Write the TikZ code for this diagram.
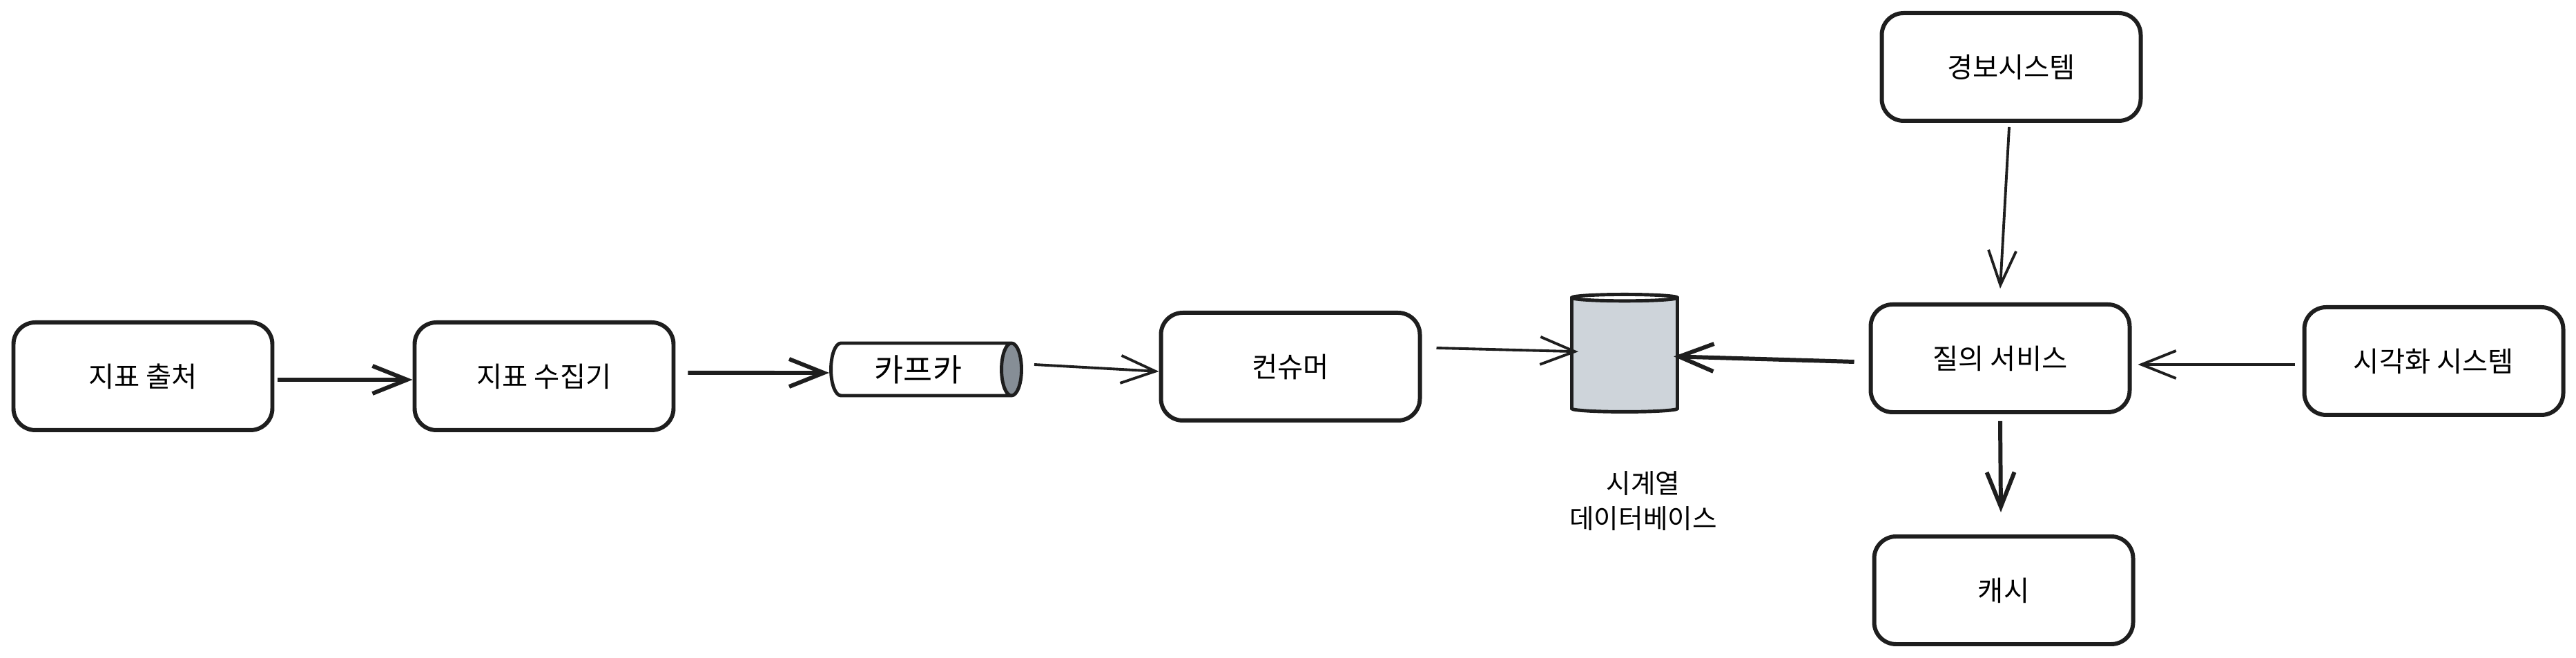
\documentclass[tikz,border=0pt]{standalone}
\usepackage{fontspec}
\setmainfont{Noto Sans CJK KR}
\usepackage{tikz}
\usetikzlibrary{arrows.meta,positioning,shapes.geometric}
\definecolor{inkblack}{HTML}{1E1E1E}
\definecolor{dbgray}{HTML}{CED4DA}
\definecolor{capgray}{HTML}{868E96}

\begin{document}
\begin{tikzpicture}[
  font=\fontsize{11.5}{15}\selectfont,
  box/.style={draw=inkblack,line width=1.7pt,rounded corners=9pt,minimum width=3.75cm,minimum height=1.56cm,align=center},
  arr/.style={-{Straight Barb[length=5mm,width=4mm]},draw=inkblack,line width=1.1pt},
  arrthick/.style={arr,line width=1.7pt}
]
\useasboundingbox (0,0) rectangle (37.31,9.53);
\node[box] (src) at (2.07,4.08) {지표 출처};
\node[box] (collector) at (7.88,4.08) {지표 수집기};
\node[cylinder,draw=inkblack,line width=1.4pt,cylinder uses custom fill,cylinder body fill=white,cylinder end fill=capgray,aspect=0.6,minimum width=0.76cm,minimum height=2.76cm,inner sep=1pt,font=\fontsize{13}{15}\selectfont] (kafka) at (13.30,4.18) {카프카};
\node[box] (consumer) at (18.69,4.22) {컨슈머};
\node[cylinder,shape border rotate=90,draw=inkblack,line width=1.4pt,cylinder uses custom fill,cylinder body fill=dbgray,cylinder end fill=white,aspect=0.4,minimum width=1.53cm,minimum height=1.7cm,anchor=north] (tsdb) at (23.53,5.29) {};
\node[align=center,font=\fontsize{11}{14.5}\selectfont] (tsdblabel) at (23.80,2.27) {시계열\\데이터베이스};
\node[box] (query) at (28.97,4.34) {질의 서비스};
\node[box] (alarm) at (29.13,8.56) {경보시스템};
\node[box] (vis) at (35.25,4.30) {시각화 시스템};
\node[box] (cache) at (29.02,0.98) {캐시};
% data path
\draw[arrthick] ([xshift=0.05cm,yshift=-0.05cm]src.east) -- ([yshift=-0.05cm]collector.west);
\draw[arrthick] ([xshift=0.18cm,yshift=0.05cm]collector.east) -- ([yshift=-0.05cm]kafka.west);
\draw[arr] ([xshift=0.16cm,yshift=0.07cm]kafka.east) -- ([yshift=-0.07cm]consumer.west);
\draw[arr] ([xshift=0.21cm,yshift=0.27cm]consumer.east) -- ([xshift=0.12cm,yshift=0.07cm]tsdb.west);
\draw[arrthick] ([xshift=-0.21cm,yshift=-0.05cm]query.west) -- ([xshift=-0.08cm]tsdb.east);
% readers
\draw[arr] ([xshift=-0.11cm,yshift=-0.05cm]vis.west) -- ([xshift=0.09cm,yshift=-0.09cm]query.east);
\draw[arr] ([xshift=-0.03cm,yshift=-0.06cm]alarm.south) -- ([yshift=0.2cm]query.north);
\draw[arrthick] ([yshift=-0.1cm]query.south) -- ([xshift=-0.04cm,yshift=0.32cm]cache.north);
\end{tikzpicture}
\end{document}
